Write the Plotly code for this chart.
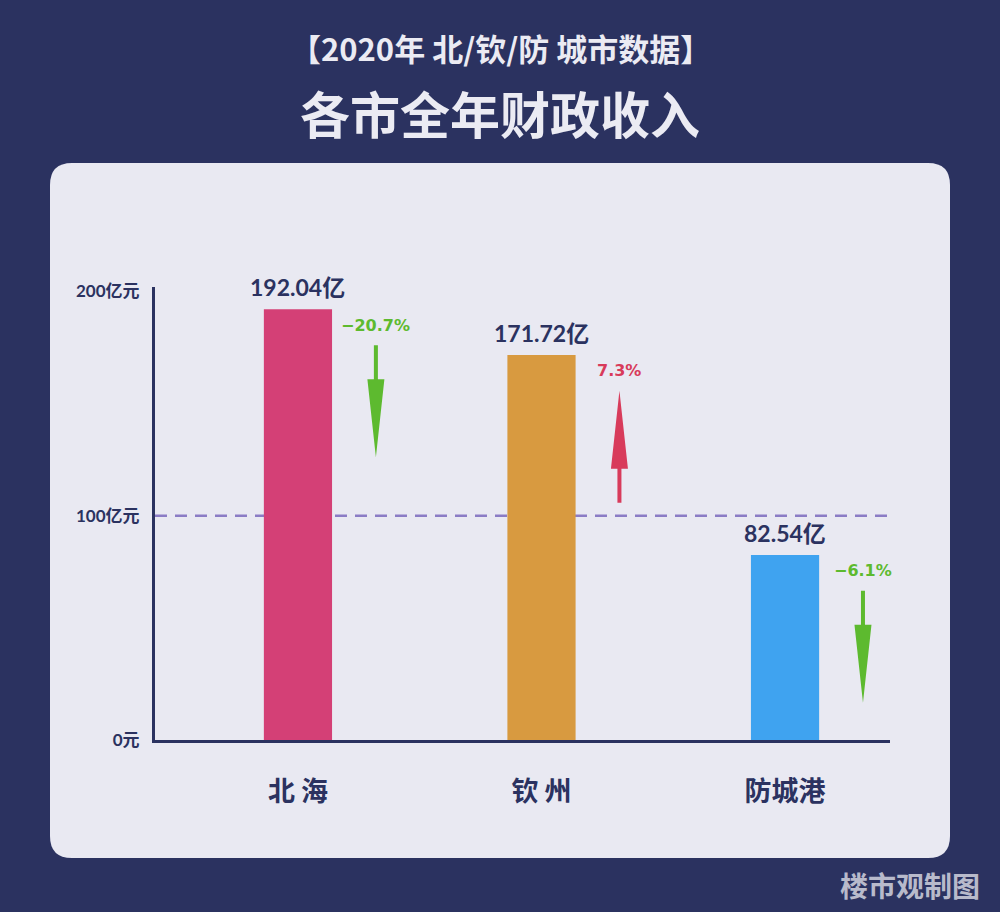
import plotly.graph_objects as go

# ---------------- data ----------------
categories = ["北 海", "钦 州", "防城港"]
revenue = [192.04, 171.72, 82.54]          # 亿元
growth = [-20.7, 7.3, -6.1]                # %
y_tick_values = [0, 100, 200]
y_tick_labels = ["0元", "100亿元", "200亿元"]
reference_value = 100
title_top = "【2020年 北/钦/防 城市数据】"
title_main = "各市全年财政收入"
watermark = "楼市观制图"

# ---------------- styles ----------------
W, H = 1000, 912
BG = "#2b3260"
PANEL = "#e9e9f2"
NAVY = "#2b3260"
bar_colors = ["#d44076", "#d89a40", "#3fa3f0"]
UP_COLOR = "#d83b5b"
DOWN_COLOR = "#5dba2f"
CJK = "Noto Sans CJK SC"
NUM = "Lato, Noto Sans CJK SC"
PCT = "DejaVu Sans, Noto Sans CJK SC"

def px(x):
    return x / W

def py(y):
    return 1 - y / H

x_index = list(range(len(categories)))

fig = go.Figure()
fig.add_trace(go.Bar(
    x=x_index, y=revenue, width=0.28,
    marker=dict(color=bar_colors, line=dict(width=0)),
    hoverinfo="skip",
))

# axis geometry in pixels
y_bottom_px, y_top_px = 740, 287
y_max = 202
x_left_px, x_right_px = 155, 890
x_range = [-0.587, 2.431]

fig.update_layout(
    width=W, height=H,
    margin=dict(l=0, r=0, t=0, b=0),
    paper_bgcolor=BG,
    plot_bgcolor="rgba(0,0,0,0)",
    showlegend=False,
    xaxis=dict(
        domain=[px(x_left_px), px(x_right_px)],
        range=x_range,
        tickvals=x_index, ticktext=categories,
        showgrid=False, zeroline=False,
        showline=True, linecolor=NAVY, linewidth=3,
        ticks="outside", ticklen=26, tickcolor="rgba(0,0,0,0)",
        tickfont=dict(family=CJK, size=27, color=NAVY, weight="bold"),
        fixedrange=True, automargin=False,
    ),
    yaxis=dict(
        domain=[py(y_bottom_px), py(y_top_px)],
        range=[0, y_max],
        tickvals=y_tick_values, ticktext=y_tick_labels,
        showgrid=False, zeroline=False,
        showline=True, linecolor=NAVY, linewidth=3,
        ticks="outside", ticklen=9, tickcolor="rgba(0,0,0,0)",
        tickfont=dict(family=NUM, size=17, color=NAVY, weight="bold"),
        fixedrange=True, automargin=False,
    ),
)

shapes = []
# rounded light panel
x0, x1 = px(50), px(950)
yt, yb = py(163), py(858)
rx, ry = 22 / W, 22 / H
panel_path = (
    f"M {x0+rx},{yt} L {x1-rx},{yt} Q {x1},{yt} {x1},{yt-ry} "
    f"L {x1},{yb+ry} Q {x1},{yb} {x1-rx},{yb} "
    f"L {x0+rx},{yb} Q {x0},{yb} {x0},{yb+ry} "
    f"L {x0},{yt-ry} Q {x0},{yt} {x0+rx},{yt} Z"
)
shapes.append(dict(type="path", xref="paper", yref="paper", path=panel_path,
                   fillcolor=PANEL, line=dict(width=0), layer="below"))
# dashed reference line
shapes.append(dict(type="line", xref="x domain", yref="y", x0=0, x1=1,
                   y0=reference_value, y1=reference_value,
                   line=dict(color="#8b7cc5", width=2.5, dash="12px,8px"),
                   layer="below"))

# growth arrows (computed from the data values)
units_per_px_y = y_max / (y_bottom_px - y_top_px)
units_per_px_x = (x_range[1] - x_range[0]) / (x_right_px - x_left_px)
arrow_dx = 0.32
arrow_total = 112 * units_per_px_y
head_len = 78 * units_per_px_y
head_hw = 8.5 * units_per_px_x
shaft_hw = 2.0 * units_per_px_x
top_gap = 16

annotations = []
for i, (v, g) in enumerate(zip(revenue, growth)):
    cx = x_index[i] + arrow_dx
    upper = v - top_gap
    lower = upper - arrow_total
    if g < 0:
        hb = lower + head_len
        path = (f"M {cx-shaft_hw},{upper} L {cx+shaft_hw},{upper} L {cx+shaft_hw},{hb} "
                f"L {cx+head_hw},{hb} L {cx},{lower} L {cx-head_hw},{hb} L {cx-shaft_hw},{hb} Z")
        col = DOWN_COLOR
        txt = f"−{abs(g)}%"
    else:
        hb = upper - head_len
        path = (f"M {cx-shaft_hw},{lower} L {cx+shaft_hw},{lower} L {cx+shaft_hw},{hb} "
                f"L {cx+head_hw},{hb} L {cx},{upper} L {cx-head_hw},{hb} L {cx-shaft_hw},{hb} Z")
        col = UP_COLOR
        txt = f"{g}%"
    shapes.append(dict(type="path", xref="x", yref="y", path=path,
                       fillcolor=col, line=dict(width=0), layer="above"))
    annotations.append(dict(x=cx, y=upper, xref="x", yref="y", text=txt,
                            showarrow=False, yanchor="middle", xanchor="center",
                            yshift=20, font=dict(family=PCT, size=16, color=col, weight="bold")))
    # value label above bar
    annotations.append(dict(x=x_index[i], y=v, xref="x", yref="y", text=f"{v:.2f}亿",
                            showarrow=False, yanchor="middle", xanchor="center",
                            yshift=22, font=dict(family=NUM, size=23, color=NAVY, weight="bold")))

# titles and watermark
annotations.append(dict(x=0.5, y=py(48), xref="paper", yref="paper", text=title_top,
                        showarrow=False, xanchor="center", yanchor="middle",
                        font=dict(family=CJK, size=31, color="#ebebf3", weight="bold")))
annotations.append(dict(x=0.5, y=py(112), xref="paper", yref="paper", text=title_main,
                        showarrow=False, xanchor="center", yanchor="middle",
                        font=dict(family=CJK, size=50, color="#ebebf3", weight="bold")))
annotations.append(dict(x=px(982), y=py(885), xref="paper", yref="paper", text=watermark,
                        showarrow=False, xanchor="right", yanchor="middle",
                        font=dict(family=CJK, size=28, color="#b8bacb", weight="bold")))

fig.update_layout(shapes=shapes, annotations=annotations)
fig.write_html("out.html", post_script="document.body.style.margin='0';document.body.style.overflow='hidden';")
